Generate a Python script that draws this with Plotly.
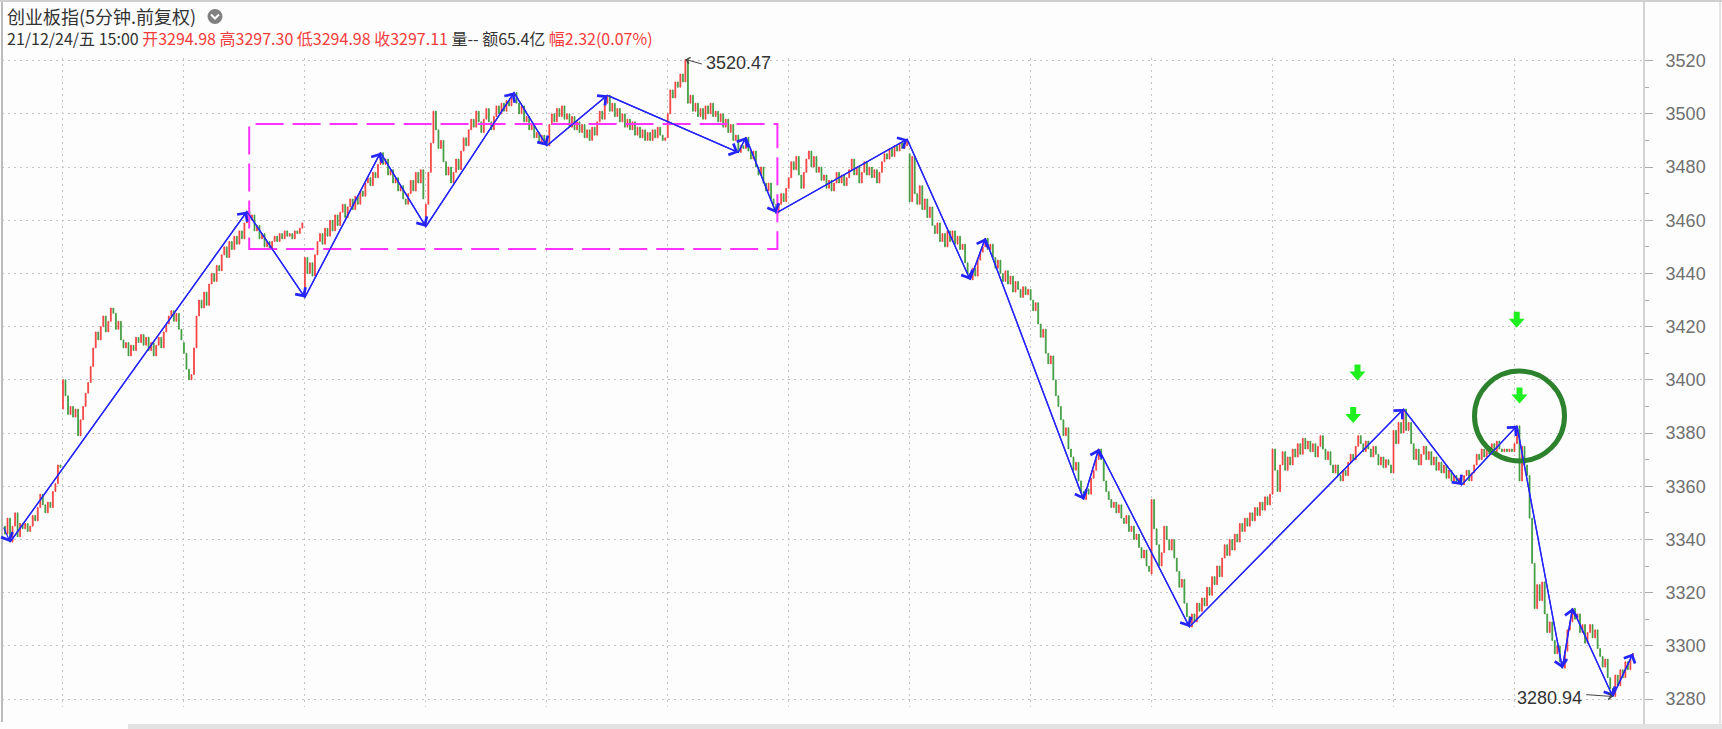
import plotly.graph_objects as go

# ---------------- data ----------------
y_ticks = [3280, 3300, 3320, 3340, 3360, 3380, 3400, 3420, 3440, 3460, 3480, 3500, 3520]

# 5-minute closes, one list per trading session (first session partial)
day_m1 = [3342, 3348, 3339, 3345, 3350, 3341, 3346, 3344, 3346, 3343, 3345, 3349, 3347,
          3352, 3357, 3353, 3350, 3354, 3352, 3358, 3361, 3368, 3367]
day_00 = [3400, 3394, 3387, 3390, 3386, 3389, 3379, 3385, 3390, 3395,
          3399, 3405, 3412, 3418, 3415, 3420, 3424, 3418, 3422, 3427,
          3425, 3419, 3422, 3415, 3412, 3414, 3409, 3413, 3411, 3416,
          3414, 3417, 3413, 3416, 3411, 3414, 3409, 3413, 3416, 3412,
          3418, 3421, 3424, 3426, 3422, 3425, 3419, 3415]
day_01 = [3410, 3404, 3400, 3402, 3412, 3424, 3430, 3427, 3433, 3428,
          3436, 3440, 3437, 3443, 3441, 3447, 3450, 3446, 3452, 3449,
          3454, 3451, 3456, 3453, 3459, 3463.3, 3460, 3462, 3456, 3458,
          3453, 3455, 3450, 3452, 3449, 3452, 3454, 3452, 3455, 3453,
          3456, 3454, 3455, 3453, 3456, 3455, 3457, 3459]
day_02 = [3446, 3440, 3444, 3439, 3447, 3452, 3455, 3451, 3457, 3454,
          3460, 3456, 3462, 3458, 3463, 3466, 3461, 3465, 3468, 3464,
          3469, 3466, 3471, 3469, 3474, 3476, 3473, 3478, 3476, 3481,
          3485.4, 3481, 3483, 3477, 3479, 3474, 3476, 3471, 3473, 3468,
          3466, 3470, 3475, 3471, 3478, 3474, 3479, 3468]
day_03 = [3466, 3478, 3489, 3501, 3494, 3487, 3490, 3482, 3477, 3480,
          3474, 3478, 3483, 3479, 3486, 3491, 3488, 3494, 3498, 3495,
          3501, 3497, 3493, 3498, 3502, 3497, 3494, 3499, 3503, 3500,
          3504, 3501, 3505, 3503, 3506, 3508, 3504, 3500, 3503, 3497,
          3499, 3494, 3496, 3491, 3493, 3489, 3492, 3490]
day_04 = [3488, 3496, 3500, 3497, 3502, 3499, 3503, 3498, 3500, 3495,
          3499, 3494, 3497, 3493, 3496, 3491, 3494, 3490, 3495, 3492,
          3497, 3501, 3498, 3504, 3507, 3501, 3504, 3499, 3502, 3497,
          3500, 3495, 3498, 3494, 3497, 3492, 3495, 3491, 3494, 3490,
          3493, 3490, 3494, 3491, 3495, 3492, 3490, 3491]
day_05 = [3500, 3509, 3506, 3512, 3510, 3515, 3512, 3520.47, 3504, 3507,
          3501, 3504, 3499, 3502, 3498, 3503, 3500, 3504, 3499, 3501,
          3497, 3500, 3495, 3498, 3493, 3496, 3490, 3492, 3485.5, 3488,
          3487, 3491.2, 3486, 3483, 3486, 3480, 3477, 3480, 3474, 3471,
          3474, 3468, 3466, 3462.7, 3466, 3470, 3467, 3472]
day_06 = [3476, 3482, 3479, 3484, 3477, 3472, 3478, 3483, 3486, 3480,
          3484, 3478, 3480, 3475, 3477, 3472, 3475, 3471, 3474, 3478,
          3474, 3477, 3473, 3476, 3479, 3483, 3477, 3480, 3474, 3478,
          3482, 3477, 3480, 3476, 3479, 3474, 3478, 3482, 3485, 3483,
          3487, 3484, 3488, 3486, 3489, 3487, 3488, 3490.5]
day_07 = [3467, 3484, 3470, 3466, 3473, 3464, 3468, 3461, 3465, 3458,
          3455, 3459, 3452, 3455, 3450, 3456, 3452, 3456, 3451, 3454,
          3449, 3451, 3444, 3440, 3437.6, 3442, 3439, 3445, 3448, 3450,
          3453.2, 3449, 3451, 3446, 3442, 3445, 3440, 3437, 3441, 3436,
          3439, 3433, 3437, 3434, 3431, 3435, 3432, 3434]
day_08 = [3430, 3426, 3429, 3421, 3416, 3419, 3410, 3406, 3409, 3400,
          3394, 3390, 3385, 3379, 3382, 3374, 3371, 3366, 3369, 3362,
          3358, 3355, 3359, 3357, 3363, 3366, 3370, 3374, 3370, 3362,
          3358, 3355, 3352, 3354, 3350, 3353, 3348, 3346, 3349, 3343,
          3345, 3340, 3342, 3337, 3333, 3336, 3330, 3328]
day_09 = [3355, 3344, 3338, 3330, 3335, 3345, 3340, 3336, 3340, 3333,
          3328, 3322, 3325, 3316, 3311, 3307.1, 3312, 3309, 3316, 3313,
          3318, 3315, 3322, 3319, 3326, 3323, 3330, 3326, 3333, 3338,
          3334, 3340, 3336, 3342, 3339, 3346, 3343, 3348, 3345, 3350,
          3347, 3352, 3349, 3354, 3351, 3356, 3353, 3357]
day_10 = [3374, 3366, 3358, 3368, 3373, 3366, 3371, 3368, 3374, 3371,
          3376, 3372, 3378, 3374, 3377, 3373, 3376, 3371, 3375, 3379,
          3374, 3370, 3373, 3368, 3365, 3368, 3364, 3362, 3366, 3364,
          3369, 3372, 3370, 3375, 3379, 3376, 3373, 3377, 3374, 3371,
          3375, 3372, 3368, 3371, 3367, 3370, 3368, 3365]
day_11 = [3381, 3376, 3384, 3380, 3389, 3381, 3384, 3376, 3370, 3374,
          3368, 3372, 3375, 3370, 3373, 3368, 3371, 3366, 3369, 3365,
          3368, 3363, 3366, 3362, 3364, 3361, 3363, 3360.5, 3364, 3366,
          3362, 3365, 3368, 3372, 3370, 3374, 3371, 3375, 3372, 3376,
          3373, 3377, 3374, 3373, 3374, 3373, 3374, 3373]
day_12 = [3376, 3382.7, 3362, 3375, 3368, 3364, 3348, 3331, 3314, 3323,
          3317, 3324, 3312, 3305, 3309, 3302, 3297, 3300, 3294, 3291.6,
          3298, 3306, 3309, 3314.1, 3310, 3312, 3305, 3308, 3301, 3305,
          3308, 3303, 3306, 3299, 3296, 3292, 3295, 3288, 3284, 3280.94,
          3289, 3285, 3291, 3288, 3294, 3291, 3294.98, 3297.11]
sessions = [day_m1, day_00, day_01, day_02, day_03, day_04, day_05, day_06,
            day_07, day_08, day_09, day_10, day_11, day_12]
# opening price of the first bar of each session
session_opens = [3345, 3389, 3414, 3431, 3457.6, 3490, 3491, 3472, 3485, 3434,
                 3327, 3357, 3365, 3373]

# zigzag pivots (bar index, price)
zz_x = [2, 96, 119, 149, 167, 202, 215, 239, 291, 294, 306, 358, 383, 389, 428, 434,
        470, 555, 578, 600, 618, 622, 638, 646]
zz_y = [3339, 3463.3, 3431, 3485.4, 3457.6, 3508, 3488, 3507, 3485.5, 3491.2, 3462.7,
        3490.5, 3437.6, 3453.2, 3355, 3374, 3307.1, 3389, 3360.5, 3382.7, 3291.6,
        3314.1, 3280.94, 3297.11]

box_x = [96.9, 306.5]
box_y = [3449.2, 3496.2]

sig_x = [536.7, 535.0, 599.9, 601.0]
sig_y = [3402.8, 3386.8, 3422.6, 3394.1]

ring_x, ring_y = 601.0, 3386.4

hi_x, hi_y, hi_label = 270, 3520.47, "3520.47"
lo_x, lo_y, lo_label = 638, 3280.94, "3280.94"

title_text = "创业板指(5分钟.前复权)"
info_dark1 = "21/12/24/五 15:00 "
info_red1 = "开3294.98 高3297.30 低3294.98 收3297.11"
info_dark2 = " 量-- 额65.4亿 "
info_red2 = "幅2.32(0.07%)"

# ---------------- build OHLC table ----------------
closes, opens, session_start = [], [], []
for sess, o0 in zip(sessions, session_opens):
    session_start.append(len(closes))
    opens.extend([o0] + sess[:-1])
    closes.extend(sess)
highs = [max(o, c) for o, c in zip(opens, closes)]
lows = [min(o, c) for o, c in zip(opens, closes)]
bars = list(range(len(closes)))
day_lines = session_start[1:]

# ---------------- layout geometry ----------------
W, H = 1722, 729
L, R, T, B = 2, 1644, 58, 707
XR = [-1.19, 650.4]
YR = [3277.0, 3521.0]


def px(x):
    return (x - L) / (R - L)


def py(y):
    return 1 - (y - T) / (B - T)


RED = "#f53c3c"
GREEN = "#3d9a3d"
BLUE = "#2424ff"
DARK = "#333333"
CJK = "Noto Sans CJK SC"

fig = go.Figure()

fig.add_trace(go.Candlestick(
    x=bars, open=opens, high=highs, low=lows, close=closes,
    increasing=dict(line=dict(color=RED, width=0.8), fillcolor=RED),
    decreasing=dict(line=dict(color=GREEN, width=0.8), fillcolor=GREEN),
    whiskerwidth=0, hoverinfo="skip", showlegend=False))

fig.add_trace(go.Scatter(x=zz_x, y=zz_y, mode="lines",
                         line=dict(color=BLUE, width=1.4), hoverinfo="skip",
                         showlegend=False))

annotations = []
# tail of the zigzag leg that ends at the first pivot
annotations.append(dict(x=zz_x[0], y=zz_y[0], ax=-7, ay=-16, xref="x", yref="y",
                        text="", showarrow=True, arrowhead=4, arrowsize=2.0,
                        arrowwidth=1.2, arrowcolor=BLUE))
for i in range(1, len(zz_x)):
    annotations.append(dict(x=zz_x[i], y=zz_y[i], ax=zz_x[i - 1], ay=zz_y[i - 1],
                            xref="x", yref="y", axref="x", ayref="y", text="",
                            showarrow=True, arrowhead=4, arrowsize=2.0,
                            arrowwidth=1.2, arrowcolor=BLUE))

# high / low labels
annotations.append(dict(x=hi_x, y=hi_y, ax=18, ay=5, xref="x", yref="y", text="",
                        showarrow=True, arrowhead=4, arrowsize=1.3, arrowwidth=1,
                        arrowcolor="#444"))
annotations.append(dict(x=hi_x, y=hi_y, xref="x", yref="y", text=hi_label,
                        showarrow=False, xanchor="left", yanchor="middle",
                        xshift=19, yshift=-4,
                        font=dict(family="Liberation Sans", size=18, color=DARK)))
annotations.append(dict(x=lo_x, y=lo_y, ax=-28, ay=-2, xref="x", yref="y", text="",
                        showarrow=True, arrowhead=4, arrowsize=1.3, arrowwidth=1,
                        arrowcolor="#444"))
annotations.append(dict(x=lo_x, y=lo_y, xref="x", yref="y", text=lo_label,
                        showarrow=False, xanchor="right", yanchor="middle",
                        xshift=-29, yshift=-1,
                        font=dict(family="Liberation Sans", size=18, color=DARK)))

# header
annotations.append(dict(xref="paper", yref="paper", x=px(5), y=py(16), text=title_text,
                        showarrow=False, xanchor="left", yanchor="middle",
                        font=dict(family=CJK, size=18, color=DARK)))
info = (f"{info_dark1}<span style='color:{RED}'>{info_red1}</span>{info_dark2}"
        f"<span style='color:{RED}'>{info_red2}</span>")
annotations.append(dict(xref="paper", yref="paper", x=px(5), y=py(38), text=info,
                        showarrow=False, xanchor="left", yanchor="middle",
                        font=dict(family=CJK, size=16, color=DARK)))

shapes = []
# magenta dashed box
shapes.append(dict(type="rect", xref="x", yref="y", x0=box_x[0], x1=box_x[1],
                   y0=box_y[0], y1=box_y[1],
                   line=dict(color="#ff33ff", width=2, dash="28px,9px")))
# green signal arrows
arrow_path = "M -3,8 L 3,8 L 3,1 L 8,1 L 0,-8 L -8,1 L -3,1 Z"
for sx, sy in zip(sig_x, sig_y):
    shapes.append(dict(type="path", xref="x", yref="y", xsizemode="pixel",
                       ysizemode="pixel", xanchor=sx, yanchor=sy, path=arrow_path,
                       fillcolor="#1fee1f", line=dict(width=0)))
# ring
shapes.append(dict(type="circle", xref="x", yref="y", xsizemode="pixel",
                   ysizemode="pixel", xanchor=ring_x, yanchor=ring_y,
                   x0=-45, x1=45, y0=-45, y1=45,
                   line=dict(color="#2d822d", width=5)))
# frame lines
shapes.append(dict(type="line", xref="paper", yref="paper", x0=px(R), x1=px(R),
                   y0=py(0), y1=py(729), line=dict(color="#aaaaaa", width=1)))
shapes.append(dict(type="line", xref="paper", yref="paper", x0=px(1720), x1=px(1720),
                   y0=py(0), y1=py(729), line=dict(color="#cccccc", width=1)))
shapes.append(dict(type="line", xref="paper", yref="paper", x0=px(2), x1=px(2),
                   y0=py(0), y1=py(722), line=dict(color="#bbbbbb", width=2)))
shapes.append(dict(type="line", xref="paper", yref="paper", x0=px(0), x1=px(1722),
                   y0=py(1), y1=py(1), line=dict(color="#cfcfcf", width=2)))
shapes.append(dict(type="rect", xref="paper", yref="paper", x0=px(128), x1=px(1722),
                   y0=py(724), y1=py(729), fillcolor="#e3e3e3", line=dict(width=0)))
# header icon
shapes.append(dict(type="circle", xref="paper", yref="paper", x0=px(207.5), x1=px(222.5),
                   y0=py(9), y1=py(24), fillcolor="#808080", line=dict(width=0)))
shapes.append(dict(type="path", xref="paper", yref="paper",
                   path=f"M {px(211)},{py(14.5)} L {px(215)},{py(18.5)} L {px(219)},{py(14.5)}",
                   line=dict(color="white", width=2)))

fig.update_layout(
    width=W, height=H,
    margin=dict(l=L, r=W - R, t=T, b=H - B, pad=0),
    paper_bgcolor="#fdfdfd", plot_bgcolor="#fdfdfd",
    showlegend=False, boxgap=0.5,
    annotations=annotations, shapes=shapes,
    xaxis=dict(range=XR, tickvals=day_lines, showticklabels=False, ticks="",
               showgrid=True, gridcolor="#c4c4c4", griddash="2px,4px", gridwidth=1,
               zeroline=False, showline=False, rangeslider=dict(visible=False),
               fixedrange=True),
    yaxis=dict(range=YR, side="right", tickvals=y_ticks, ticks="outside", ticklen=8,
               tickcolor="#aaaaaa", showgrid=True, gridcolor="#c4c4c4",
               griddash="2px,4px", gridwidth=1, zeroline=False, showline=False,
               ticklabelstandoff=9,
               tickfont=dict(family="Liberation Sans", size=18, color="#707070"),
               minor=dict(dtick=10, ticks="outside", ticklen=4, tickcolor="#aaaaaa",
                          showgrid=False),
               fixedrange=True),
)

fig.write_html("out.html", config={"displayModeBar": False},
               post_script="document.body.style.margin='0px';")
